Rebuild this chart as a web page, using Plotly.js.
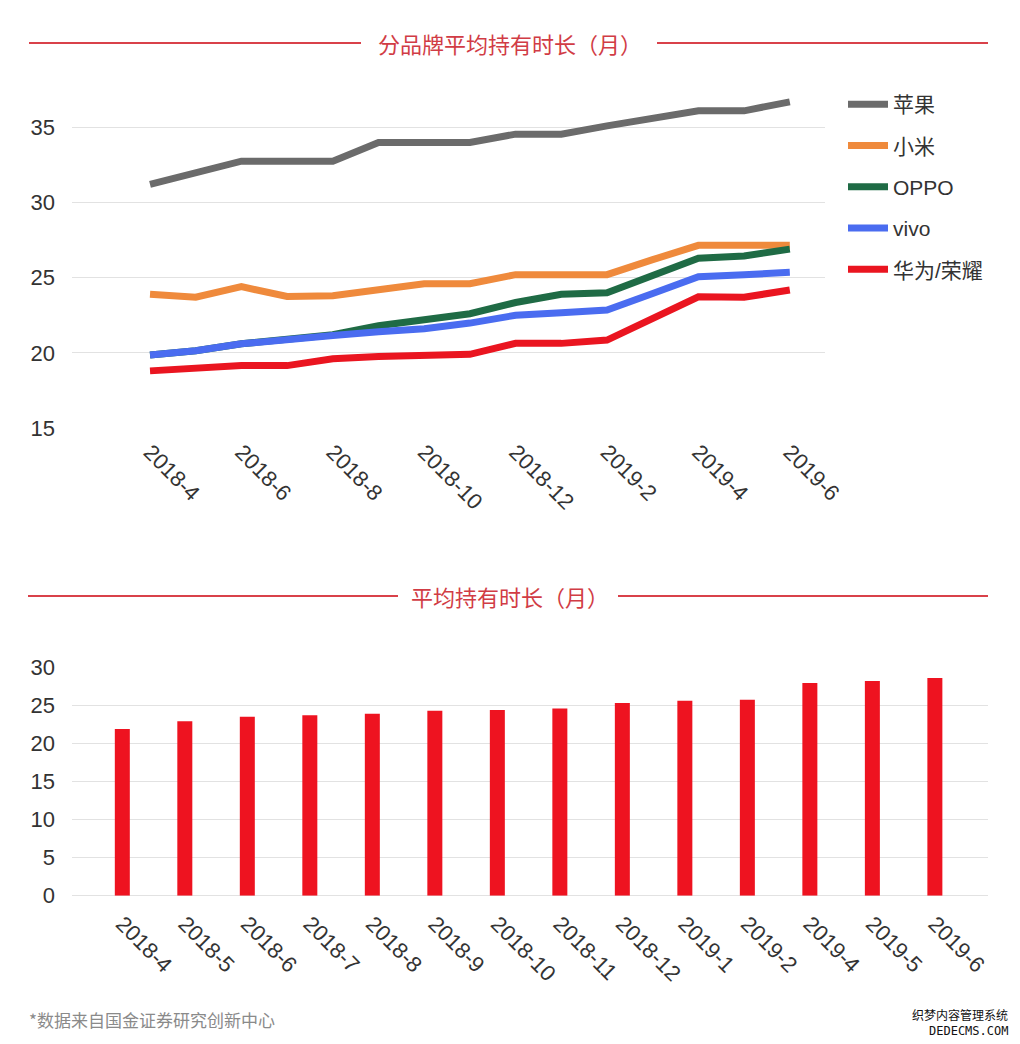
<!DOCTYPE html>
<html>
<head>
<meta charset="utf-8">
<script src="https://cdn.plot.ly/plotly-3.0.1.min.js"></script>
<style>
html,body{margin:0;padding:0;background:#fff;}
#chart{width:1020px;height:1044px;}
</style>
</head>
<body>
<div id="chart"></div>
<script>
// ---- Top chart: brand average holding time (months) ----
var months = ['2018-4','2018-5','2018-6','2018-7','2018-8','2018-9','2018-10','2018-11','2018-12','2019-1','2019-2','2019-3','2019-4','2019-5','2019-6'];
var topTickLabels = ['2018-4','2018-6','2018-8','2018-10','2018-12','2019-2','2019-4','2019-6'];
var brandNames = ['苹果','小米','OPPO','vivo','华为/荣耀'];
var apple  = [31.2, 31.95, 32.75, 32.75, 32.75, 34.0, 34.0, 34.0, 34.55, 34.55, 35.1, 35.6, 36.1, 36.1, 36.7];
var xiaomi = [23.9, 23.7, 24.4, 23.75, 23.8, 24.2, 24.6, 24.6, 25.2, 25.2, 25.2, 26.2, 27.15, 27.15, 27.15];
var oppo   = [19.86, 20.14, 20.6, 20.92, 21.2, 21.8, 22.2, 22.6, 23.35, 23.9, 24.0, 25.15, 26.3, 26.45, 26.9];
var vivo   = [19.86, 20.14, 20.6, 20.92, 21.15, 21.4, 21.6, 21.98, 22.5, 22.67, 22.85, 23.95, 25.07, 25.2, 25.36];
var huawei = [18.8, 18.97, 19.15, 19.15, 19.6, 19.75, 19.85, 19.9, 20.63, 20.63, 20.85, 22.23, 23.73, 23.7, 24.18];
var brandColors = ['#6b6b6b','#ef8a3c','#1f6b45','#4a6cf0','#ea1520'];

// ---- Bottom chart: overall average holding time (months) ----
var barMonths = ['2018-4','2018-5','2018-6','2018-7','2018-8','2018-9','2018-10','2018-11','2018-12','2019-1','2019-2','2019-4','2019-5','2019-6'];
var barValues = [21.9, 22.9, 23.5, 23.7, 23.9, 24.3, 24.4, 24.6, 25.3, 25.6, 25.75, 27.95, 28.2, 28.6];

var topTitle = '分品牌平均持有时长（月）';
var bottomTitle = '平均持有时长（月）';
var footnote = '*数据来自国金证券研究创新中心';

var W = 1020, H = 1044;
function px(x){ return x / W; }
function py(y){ return 1 - y / H; }

var FONT = 'Liberation Sans, Arial, Noto Sans CJK SC, sans-serif';
var CJK = 'Noto Sans CJK SC, sans-serif';

var series = [apple, xiaomi, oppo, vivo, huawei];
var data = [];
series.forEach(function(s, i){
  data.push({
    type: 'scatter', mode: 'lines',
    x: months, y: s, name: brandNames[i],
    xaxis: 'x', yaxis: 'y',
    line: {color: brandColors[i], width: 7},
    legendgroup: 'g' + i,
    hoverinfo: 'x+y+name'
  });
});
data.push({
  type: 'bar', x: barMonths, y: barValues,
  xaxis: 'x2', yaxis: 'y2',
  marker: {color: '#ee1320'},
  width: 0.24,
  showlegend: false
});

var gridC = '#e2e2e2';
var layout = {
  width: W, height: H,
  margin: {l: 0, r: 0, t: 0, b: 0},
  paper_bgcolor: '#ffffff', plot_bgcolor: '#ffffff',
  font: {family: FONT, color: '#333333'},
  showlegend: true,
  legend: {
    x: px(843), y: py(84), xanchor: 'left', yanchor: 'top',
    font: {family: FONT, size: 21, color: '#333333'},
    tracegroupgap: 11,
    itemwidth: 40,
    bgcolor: 'rgba(0,0,0,0)'
  },
  xaxis: {
    domain: [px(72), px(825)],
    type: 'category',
    categoryorder: 'array', categoryarray: months,
    range: [-1.707, 14.77],
    tickmode: 'array', tickvals: topTickLabels, ticktext: topTickLabels,
    tickangle: 45,
    tickfont: {family: FONT, size: 22, color: '#333333'},
    ticks: '', showgrid: false, zeroline: false, showline: false,
    ticklabelstandoff: 6
  },
  yaxis: {
    domain: [py(428), py(97.3)],
    range: [15, 37],
    tickvals: [15, 20, 25, 30, 35],
    tickfont: {family: FONT, size: 22, color: '#333333'},
    showgrid: true, gridcolor: gridC, gridwidth: 1,
    zeroline: false, showline: false, ticks: '',
    ticklabelstandoff: 16
  },
  xaxis2: {
    domain: [px(72), px(988)],
    anchor: 'y2',
    type: 'category',
    categoryorder: 'array', categoryarray: barMonths,
    range: [-0.805, 13.85],
    tickangle: 45,
    tickfont: {family: FONT, size: 22, color: '#333333'},
    ticks: '', showgrid: false, zeroline: false, showline: false,
    ticklabelstandoff: 10
  },
  yaxis2: {
    domain: [py(895.7), py(667.3)],
    anchor: 'x2',
    range: [0, 30],
    tickvals: [0, 5, 10, 15, 20, 25, 30],
    tickfont: {family: FONT, size: 22, color: '#333333'},
    showgrid: true, gridcolor: gridC, gridwidth: 1,
    zeroline: true, zerolinecolor: gridC, zerolinewidth: 1,
    showline: false, ticks: '',
    ticklabelstandoff: 16
  },
  shapes: [
    {type: 'line', xref: 'paper', yref: 'paper', x0: px(29), x1: px(361), y0: py(43), y1: py(43), line: {color: '#d9414a', width: 2}},
    {type: 'line', xref: 'paper', yref: 'paper', x0: px(657), x1: px(988), y0: py(43), y1: py(43), line: {color: '#d9414a', width: 2}},
    {type: 'line', xref: 'paper', yref: 'paper', x0: px(28), x1: px(398), y0: py(596), y1: py(596), line: {color: '#d9414a', width: 2}},
    {type: 'line', xref: 'paper', yref: 'paper', x0: px(618), x1: px(988), y0: py(596), y1: py(596), line: {color: '#d9414a', width: 2}}
  ],
  annotations: [
    {text: topTitle, xref: 'paper', yref: 'paper', x: px(510), y: py(43), xanchor: 'center', yanchor: 'middle', showarrow: false,
     font: {family: CJK, size: 22, color: '#d13c45'}},
    {text: bottomTitle, xref: 'paper', yref: 'paper', x: px(510), y: py(596), xanchor: 'center', yanchor: 'middle', showarrow: false,
     font: {family: CJK, size: 22, color: '#d13c45'}},
    {text: footnote, xref: 'paper', yref: 'paper', x: px(27), y: py(1019), xanchor: 'left', yanchor: 'middle', showarrow: false,
     font: {family: CJK, size: 17, color: '#8a8a8a'}},
    {text: '织梦内容管理系统', xref: 'paper', yref: 'paper', x: px(1010), y: py(1014), xanchor: 'right', yanchor: 'middle', showarrow: false,
     font: {family: CJK, size: 12, color: '#111111'}},
    {text: 'DEDECMS.COM', xref: 'paper', yref: 'paper', x: px(1010), y: py(1031), xanchor: 'right', yanchor: 'middle', showarrow: false,
     font: {family: 'DejaVu Sans Mono, monospace', size: 12, color: '#111111'}}
  ]
};

Plotly.newPlot('chart', data, layout, {displayModeBar: false, staticPlot: true});
</script>
</body>
</html>
